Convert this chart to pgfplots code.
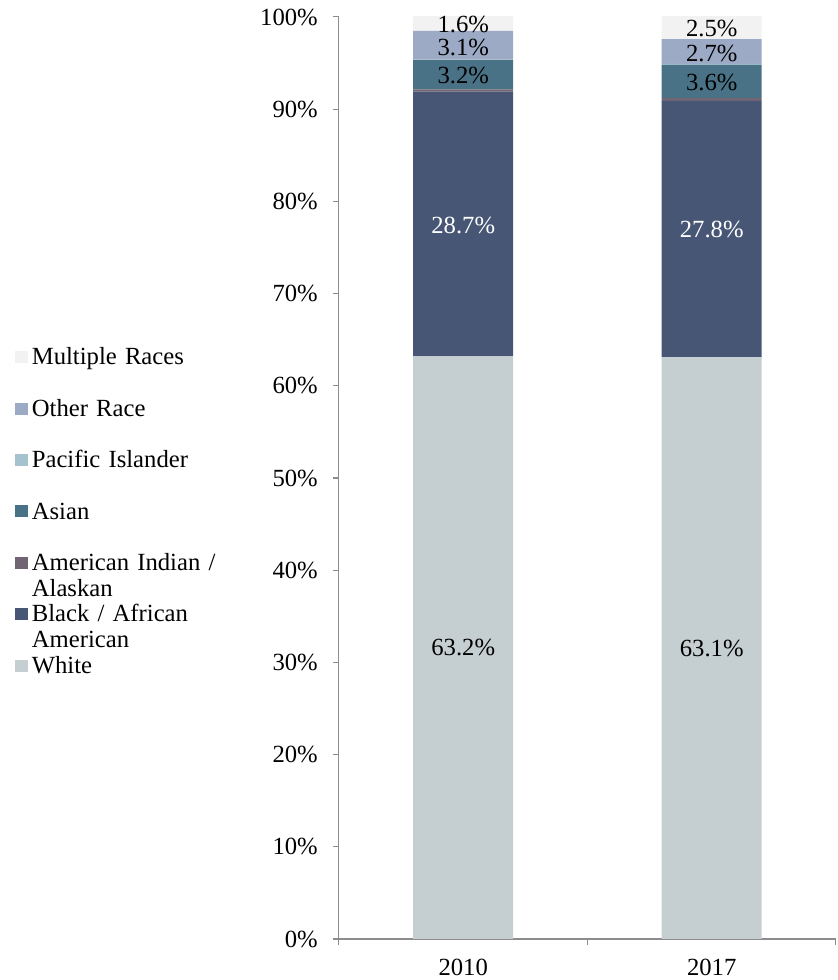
\documentclass[border=0pt]{standalone}
\usepackage{pgfplots}
\pgfplotsset{compat=1.18}
\usepackage{fontspec}
\setmainfont{Liberation Serif}
\definecolor{cMulti}{HTML}{F2F2F2}
\definecolor{cOther}{HTML}{9DAAC6}
\definecolor{cPac}{HTML}{A5C3CF}
\definecolor{cAsian}{HTML}{4A7286}
\definecolor{cAmInd}{HTML}{716573}
\definecolor{cBlack}{HTML}{475674}
\definecolor{cWhite}{HTML}{C5CED0}
\definecolor{axgray}{HTML}{8C8C8C}
\begin{document}
\fontsize{18.5}{19.5}\selectfont
\begin{tikzpicture}
\begin{axis}[
  scale only axis,
  width=372.75pt, height=691.5pt,
  ybar stacked,
  bar width=75pt,
  xmin=-0.5, xmax=1.5,
  ymin=0, ymax=100,
  axis lines*=left,
  axis line style={draw=axgray, line width=0.8pt, -},
  xtick={-0.5,0.5,1.5}, xticklabels={},
  extra x ticks={0,1}, extra x tick labels={2010,2017},
  extra x tick style={tick style={draw=none}},
  ytick={0,10,...,100},
  yticklabels={0\%,10\%,20\%,30\%,40\%,50\%,60\%,70\%,80\%,90\%,100\%},
  tick align=outside,
  major tick length=4.5pt,
  tick style={draw=axgray, line width=0.8pt},
  xticklabel style={inner sep=0pt, text depth=0pt, yshift=-10.5pt},
  yticklabel style={xshift=-5pt},
  reverse legend,
  legend image code/.code={\fill[#1, draw=none] (0pt,1.2pt) rectangle (9.5pt,10.2pt);},
  legend style={at={(rel axis cs:-0.652,0.642)}, anchor=north west, draw=none, fill=none, inner sep=0pt,
    column sep=3pt, row sep=0pt, cells={anchor=base west},
    nodes={text width=160pt, align=left, text height=13pt, text depth=25.6pt, inner sep=0pt}},
]
\addplot[fill=cWhite, draw=none] coordinates {(0,63.2) (1,63.1)};
\addlegendentry{White}
\addplot[fill=cBlack, draw=none] coordinates {(0,28.7) (1,27.8)};
\addlegendentry{Black / African\\American}
\addplot[fill=cAmInd, draw=none] coordinates {(0,0.25) (1,0.3)};
\addlegendentry{American Indian /\\Alaskan}
\addplot[fill=cAsian, draw=none] coordinates {(0,3.2) (1,3.6)};
\addlegendentry{Asian}
\addplot[fill=cPac, draw=none] coordinates {(0,0.05) (1,0.1)};
\addlegendentry{Pacific Islander}
\addplot[fill=cOther, draw=none] coordinates {(0,3.1) (1,2.7)};
\addlegendentry{Other Race}
\addplot[fill=cMulti, draw=none] coordinates {(0,1.6) (1,2.5)};
\addlegendentry{Multiple Races}
\end{axis}
\begin{axis}[
  scale only axis,
  width=372.75pt, height=691.5pt,
  xmin=-0.5, xmax=1.5,
  ymin=0, ymax=100,
  hide axis, clip=false,
]
\addplot[draw=none, mark=none, nodes near coords, point meta=explicit symbolic,
  every node near coord/.append style={anchor=center, text=black, inner ysep=0pt}]
  coordinates {(0,31.6) [63.2\%] (1,31.55) [63.1\%]
               (0,93.6) [3.2\%] (1,92.9) [3.6\%]
               (0,96.7) [3.1\%] (1,96.0) [2.7\%]
               (0,99.2) [1.6\%] (1,98.8) [2.5\%]};
\addplot[draw=none, mark=none, nodes near coords, point meta=explicit symbolic,
  every node near coord/.append style={anchor=center, text=white}]
  coordinates {(0,77.4) [28.7\%] (1,76.9) [27.8\%]};
\path (rel axis cs:-0.682,-0.0445) rectangle (rel axis cs:1.004,1.0184);
\end{axis}
\end{tikzpicture}
\end{document}
